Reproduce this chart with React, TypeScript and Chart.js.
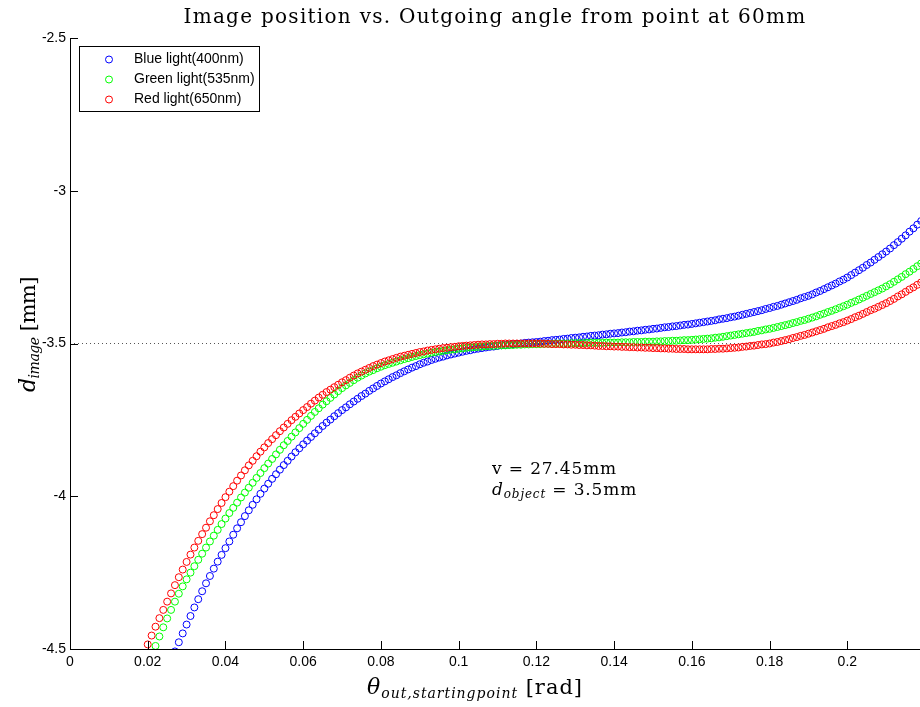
import React, { useEffect, useRef } from 'react';
import { Chart, registerables } from 'chart.js';

Chart.register(...registerables);

// outgoing angle theta [rad]
const theta = [
  0.019, 0.020, 0.021, 0.022, 0.023, 0.024, 0.025, 0.026, 0.027, 0.028,
  0.029, 0.030, 0.031, 0.032, 0.033, 0.034, 0.035, 0.036, 0.037, 0.038,
  0.039, 0.040, 0.041, 0.042, 0.043, 0.044, 0.045, 0.046, 0.047, 0.048,
  0.049, 0.050, 0.051, 0.052, 0.053, 0.054, 0.055, 0.056, 0.057, 0.058,
  0.059, 0.060, 0.061, 0.062, 0.063, 0.064, 0.065, 0.066, 0.067, 0.068,
  0.069, 0.070, 0.071, 0.072, 0.073, 0.074, 0.075, 0.076, 0.077, 0.078,
  0.079, 0.080, 0.081, 0.082, 0.083, 0.084, 0.085, 0.086, 0.087, 0.088,
  0.089, 0.090, 0.091, 0.092, 0.093, 0.094, 0.095, 0.096, 0.097, 0.098,
  0.099, 0.100, 0.101, 0.102, 0.103, 0.104, 0.105, 0.106, 0.107, 0.108,
  0.109, 0.110, 0.111, 0.112, 0.113, 0.114, 0.115, 0.116, 0.117, 0.118,
  0.119, 0.120, 0.121, 0.122, 0.123, 0.124, 0.125, 0.126, 0.127, 0.128,
  0.129, 0.130, 0.131, 0.132, 0.133, 0.134, 0.135, 0.136, 0.137, 0.138,
  0.139, 0.140, 0.141, 0.142, 0.143, 0.144, 0.145, 0.146, 0.147, 0.148,
  0.149, 0.150, 0.151, 0.152, 0.153, 0.154, 0.155, 0.156, 0.157, 0.158,
  0.159, 0.160, 0.161, 0.162, 0.163, 0.164, 0.165, 0.166, 0.167, 0.168,
  0.169, 0.170, 0.171, 0.172, 0.173, 0.174, 0.175, 0.176, 0.177, 0.178,
  0.179, 0.180, 0.181, 0.182, 0.183, 0.184, 0.185, 0.186, 0.187, 0.188,
  0.189, 0.190, 0.191, 0.192, 0.193, 0.194, 0.195, 0.196, 0.197, 0.198,
  0.199, 0.200, 0.201, 0.202, 0.203, 0.204, 0.205, 0.206, 0.207, 0.208,
  0.209, 0.210, 0.211, 0.212, 0.213, 0.214, 0.215, 0.216, 0.217, 0.218,
  0.219,
];

// d_image [mm], blue light (400nm)
const blueLight = [
  null, null, null, null, null, null, null, -4.538, -4.508, -4.478,
  -4.449, -4.420, -4.392, -4.364, -4.337, -4.311, -4.285, -4.261, -4.237, -4.214,
  -4.192, -4.170, -4.148, -4.126, -4.105, -4.085, -4.065, -4.046, -4.028, -4.010,
  -3.992, -3.975, -3.959, -3.943, -3.928, -3.913, -3.898, -3.884, -3.870, -3.856,
  -3.843, -3.830, -3.818, -3.806, -3.794, -3.782, -3.770, -3.759, -3.749, -3.738,
  -3.728, -3.718, -3.709, -3.699, -3.690, -3.681, -3.672, -3.664, -3.655, -3.647,
  -3.639, -3.631, -3.624, -3.617, -3.610, -3.604, -3.597, -3.591, -3.585, -3.579,
  -3.574, -3.568, -3.563, -3.559, -3.554, -3.550, -3.546, -3.543, -3.539, -3.536,
  -3.533, -3.530, -3.527, -3.524, -3.522, -3.519, -3.517, -3.515, -3.513, -3.511,
  -3.510, -3.508, -3.506, -3.505, -3.504, -3.502, -3.501, -3.500, -3.498, -3.497,
  -3.496, -3.495, -3.494, -3.492, -3.491, -3.489, -3.488, -3.487, -3.485, -3.484,
  -3.482, -3.481, -3.480, -3.478, -3.477, -3.475, -3.474, -3.473, -3.471, -3.470,
  -3.468, -3.467, -3.466, -3.464, -3.463, -3.461, -3.460, -3.458, -3.457, -3.455,
  -3.454, -3.452, -3.451, -3.449, -3.447, -3.446, -3.444, -3.443, -3.441, -3.439,
  -3.438, -3.436, -3.434, -3.432, -3.430, -3.428, -3.426, -3.424, -3.421, -3.419,
  -3.417, -3.414, -3.412, -3.409, -3.406, -3.403, -3.400, -3.397, -3.394, -3.391,
  -3.387, -3.384, -3.380, -3.377, -3.373, -3.369, -3.365, -3.361, -3.357, -3.352,
  -3.348, -3.344, -3.339, -3.333, -3.328, -3.322, -3.316, -3.310, -3.304, -3.297,
  -3.291, -3.284, -3.276, -3.268, -3.260, -3.252, -3.243, -3.235, -3.226, -3.217,
  -3.208, -3.199, -3.189, -3.178, -3.168, -3.157, -3.146, -3.134, -3.123, -3.111,
  -3.099,
];

// d_image [mm], green light (535nm)
const greenLight = [
  null, null, -4.520, -4.490, -4.459, -4.429, -4.400, -4.372, -4.345, -4.319,
  -4.295, -4.272, -4.250, -4.229, -4.208, -4.188, -4.168, -4.148, -4.129, -4.110,
  -4.091, -4.073, -4.055, -4.038, -4.021, -4.004, -3.988, -3.972, -3.956, -3.940,
  -3.924, -3.908, -3.893, -3.878, -3.863, -3.848, -3.833, -3.819, -3.805, -3.791,
  -3.777, -3.763, -3.750, -3.737, -3.724, -3.712, -3.700, -3.689, -3.678, -3.667,
  -3.656, -3.646, -3.637, -3.629, -3.620, -3.612, -3.605, -3.598, -3.592, -3.587,
  -3.581, -3.576, -3.571, -3.567, -3.563, -3.559, -3.555, -3.551, -3.548, -3.544,
  -3.541, -3.538, -3.535, -3.533, -3.530, -3.528, -3.526, -3.524, -3.522, -3.520,
  -3.519, -3.517, -3.516, -3.514, -3.513, -3.512, -3.511, -3.510, -3.509, -3.508,
  -3.508, -3.507, -3.506, -3.506, -3.505, -3.505, -3.504, -3.504, -3.503, -3.503,
  -3.502, -3.502, -3.502, -3.501, -3.501, -3.501, -3.500, -3.500, -3.500, -3.500,
  -3.499, -3.499, -3.499, -3.499, -3.498, -3.498, -3.498, -3.498, -3.498, -3.497,
  -3.497, -3.497, -3.497, -3.496, -3.496, -3.496, -3.495, -3.495, -3.495, -3.494,
  -3.494, -3.494, -3.493, -3.493, -3.492, -3.492, -3.491, -3.491, -3.490, -3.489,
  -3.489, -3.488, -3.487, -3.486, -3.485, -3.484, -3.483, -3.481, -3.480, -3.478,
  -3.476, -3.474, -3.472, -3.470, -3.468, -3.466, -3.464, -3.462, -3.459, -3.457,
  -3.454, -3.452, -3.449, -3.446, -3.443, -3.440, -3.437, -3.433, -3.430, -3.426,
  -3.423, -3.419, -3.415, -3.411, -3.406, -3.402, -3.397, -3.393, -3.388, -3.383,
  -3.378, -3.373, -3.367, -3.362, -3.356, -3.350, -3.344, -3.338, -3.332, -3.326,
  -3.320, -3.313, -3.306, -3.298, -3.290, -3.282, -3.273, -3.265, -3.256, -3.247,
  -3.238,
];

// d_image [mm], red light (650nm)
const redLight = [
  -4.515, -4.485, -4.456, -4.427, -4.399, -4.372, -4.345, -4.318, -4.291, -4.265,
  -4.240, -4.215, -4.191, -4.168, -4.146, -4.124, -4.103, -4.082, -4.062, -4.042,
  -4.022, -4.003, -3.985, -3.967, -3.949, -3.932, -3.915, -3.899, -3.884, -3.869,
  -3.854, -3.840, -3.826, -3.813, -3.800, -3.787, -3.775, -3.763, -3.751, -3.740,
  -3.729, -3.718, -3.708, -3.697, -3.687, -3.677, -3.668, -3.659, -3.651, -3.643,
  -3.635, -3.627, -3.620, -3.612, -3.605, -3.598, -3.592, -3.586, -3.580, -3.574,
  -3.569, -3.564, -3.559, -3.555, -3.551, -3.547, -3.543, -3.540, -3.537, -3.534,
  -3.531, -3.528, -3.526, -3.523, -3.521, -3.519, -3.517, -3.515, -3.514, -3.512,
  -3.511, -3.509, -3.508, -3.507, -3.506, -3.505, -3.504, -3.503, -3.503, -3.502,
  -3.502, -3.501, -3.501, -3.500, -3.500, -3.500, -3.500, -3.500, -3.500, -3.500,
  -3.500, -3.500, -3.500, -3.501, -3.501, -3.502, -3.502, -3.502, -3.503, -3.503,
  -3.504, -3.504, -3.505, -3.505, -3.506, -3.506, -3.507, -3.508, -3.508, -3.509,
  -3.509, -3.510, -3.510, -3.511, -3.511, -3.512, -3.512, -3.513, -3.513, -3.514,
  -3.514, -3.515, -3.515, -3.516, -3.516, -3.517, -3.517, -3.518, -3.518, -3.518,
  -3.519, -3.519, -3.519, -3.519, -3.519, -3.519, -3.518, -3.518, -3.517, -3.517,
  -3.516, -3.515, -3.514, -3.513, -3.511, -3.510, -3.508, -3.507, -3.505, -3.503,
  -3.502, -3.500, -3.497, -3.495, -3.492, -3.489, -3.486, -3.482, -3.479, -3.475,
  -3.472, -3.468, -3.464, -3.460, -3.456, -3.452, -3.447, -3.443, -3.439, -3.434,
  -3.430, -3.425, -3.420, -3.414, -3.409, -3.403, -3.397, -3.391, -3.386, -3.380,
  -3.374, -3.368, -3.361, -3.354, -3.346, -3.339, -3.331, -3.323, -3.316, -3.308,
  -3.300,
];

const seriesLabels = ['Blue light(400nm)', 'Green light(535nm)', 'Red light(650nm)'];
const seriesColors = ['#0000ff', '#00ff00', '#ff0000'];

const xTickValues = [0, 0.02, 0.04, 0.06, 0.08, 0.1, 0.12, 0.14, 0.16, 0.18, 0.2];
const xTickLabels = ['0', '0.02', '0.04', '0.06', '0.08', '0.1', '0.12', '0.14', '0.16', '0.18', '0.2'];
const yTickValues = [-4.5, -4, -3.5, -3, -2.5];
const yTickLabels = ['-4.5', '-4', '-3.5', '-3', '-2.5'];

const xMin = 0;
const xMax = 0.2187;
const yMin = -4.5;
const yMax = -2.5;
const referenceLevel = -3.5;

const titleText = 'Image position vs. Outgoing angle from point at 60mm';
const annotationLine1 = 'v = 27.45mm';
const annotationValue2 = ' = 3.5mm';
const annotationAnchorX = 0.1086;
const annotationAnchorY1 = -3.927;
const annotationAnchorY2 = -3.996;

type Part = { t: string; font: string; dy?: number };

const SERIF = '"DejaVu Serif", "Liberation Serif", serif';
const SANS = '"Liberation Sans", Arial, Helvetica, sans-serif';

function drawRich(ctx: any, parts: Part[], x: number, y: number, target: number, align: 'left' | 'center') {
  ctx.letterSpacing = '0px';
  const widths: number[] = [];
  let total = 0;
  let n = 0;
  for (const p of parts) {
    ctx.font = p.font;
    const w = ctx.measureText(p.t).width;
    widths.push(w);
    total += w;
    n += p.t.length;
  }
  const ls = target > 0 ? (target - total) / n : 0;
  const fullW = total + ls * n;
  let cx = align === 'center' ? x - fullW / 2 : x;
  ctx.textAlign = 'left';
  ctx.textBaseline = 'alphabetic';
  parts.forEach((p, i) => {
    ctx.font = p.font;
    ctx.letterSpacing = ls.toFixed(3) + 'px';
    ctx.fillText(p.t, cx, y + (p.dy || 0));
    cx += widths[i] + ls * p.t.length;
  });
  ctx.letterSpacing = '0px';
}

const decorPlugin = {
  id: 'decor',
  afterDraw(chart: any) {
    const { ctx, chartArea, scales } = chart;
    const xs = scales.x;
    const ys = scales.y;
    const { left, right, top, bottom } = chartArea;
    ctx.save();

    // axis lines
    ctx.strokeStyle = '#000';
    ctx.lineWidth = 1;
    ctx.beginPath();
    ctx.moveTo(left + 0.5, top);
    ctx.lineTo(left + 0.5, bottom + 1);
    ctx.moveTo(left, bottom + 0.5);
    ctx.lineTo(right, bottom + 0.5);
    ctx.stroke();

    // inward ticks
    const tl = 8;
    ctx.beginPath();
    xTickValues.forEach((v) => {
      const px = Math.round(xs.getPixelForValue(v)) + 0.5;
      ctx.moveTo(px, bottom);
      ctx.lineTo(px, bottom - tl);
    });
    yTickValues.forEach((v) => {
      const py = Math.round(ys.getPixelForValue(v)) + 0.5;
      ctx.moveTo(left, py);
      ctx.lineTo(left + tl, py);
    });
    ctx.stroke();

    ctx.fillStyle = '#000';

    // title
    drawRich(ctx, [{ t: titleText, font: `20px ${SERIF}` }], (left + right) / 2, 23, 623, 'center');

    // x label
    drawRich(
      ctx,
      [
        { t: 'θ', font: `italic 22px ${SERIF}` },
        { t: 'out,startingpoint', font: `italic 14px ${SERIF}`, dy: 4 },
        { t: ' [rad]', font: `21px ${SERIF}` },
      ],
      367,
      694,
      216,
      'left'
    );

    // y label (rotated)
    ctx.save();
    ctx.translate(35, 392);
    ctx.rotate(-Math.PI / 2);
    drawRich(
      ctx,
      [
        { t: 'd', font: `italic 22px ${SERIF}` },
        { t: 'image', font: `italic 14px ${SERIF}`, dy: 4 },
        { t: ' [mm]', font: `21px ${SERIF}` },
      ],
      0,
      0,
      115,
      'left'
    );
    ctx.restore();

    // annotation
    const ax = xs.getPixelForValue(annotationAnchorX);
    drawRich(ctx, [{ t: annotationLine1, font: `17px ${SERIF}` }], ax, ys.getPixelForValue(annotationAnchorY1), 125, 'left');
    drawRich(
      ctx,
      [
        { t: 'd', font: `italic 17px ${SERIF}` },
        { t: 'object', font: `italic 12px ${SERIF}`, dy: 3 },
        { t: annotationValue2, font: `17px ${SERIF}` },
      ],
      ax,
      ys.getPixelForValue(annotationAnchorY2),
      145,
      'left'
    );

    // legend
    const bx = left + 9;
    const by = top + 8;
    const bw = 180;
    const bh = 65;
    ctx.fillStyle = '#fff';
    ctx.fillRect(bx, by, bw, bh);
    ctx.strokeStyle = '#000';
    ctx.lineWidth = 1;
    ctx.strokeRect(bx + 0.5, by + 0.5, bw, bh);
    ctx.font = `14px ${SANS}`;
    ctx.textBaseline = 'middle';
    ctx.textAlign = 'left';
    seriesLabels.forEach((lab, i) => {
      const cy = by + 13.5 + i * 20;
      ctx.strokeStyle = seriesColors[i];
      ctx.beginPath();
      ctx.arc(bx + 30, cy, 3.5, 0, Math.PI * 2);
      ctx.stroke();
      ctx.fillStyle = '#000';
      ctx.fillText(lab, bx + 55, cy);
    });

    ctx.restore();
  },
};

function makePoints(ys: (number | null)[]) {
  const out: { x: number; y: number }[] = [];
  theta.forEach((x, i) => {
    const y = ys[i];
    if (y !== null && y !== undefined) out.push({ x, y });
  });
  return out;
}

export default function App() {
  const ref = useRef<HTMLCanvasElement | null>(null);

  useEffect(() => {
    if (!ref.current) return;
    const seriesData = [blueLight, greenLight, redLight];
    const datasets: any[] = seriesData.map((arr, i) => ({
      label: seriesLabels[i],
      data: makePoints(arr),
      showLine: false,
      pointStyle: 'circle',
      pointRadius: 3.5,
      pointBorderWidth: 1,
      pointBorderColor: seriesColors[i],
      pointBackgroundColor: 'rgba(0,0,0,0)',
      borderColor: seriesColors[i],
      backgroundColor: 'rgba(0,0,0,0)',
      order: 3 - i,
      clip: 0,
    }));
    datasets.push({
      label: 'reference',
      data: [
        { x: xMin, y: referenceLevel },
        { x: xMax, y: referenceLevel },
      ],
      showLine: true,
      pointRadius: 0,
      borderColor: '#555',
      borderWidth: 1,
      borderDash: [1, 3],
      order: 10,
      clip: 0,
    });

    const chart = new Chart(ref.current, {
      type: 'scatter',
      data: { datasets },
      options: {
        animation: false,
        responsive: false,
        events: [],
        layout: { autoPadding: false, padding: { top: 38, right: 0, left: 0, bottom: 0 } },
        plugins: {
          legend: { display: false },
          tooltip: { enabled: false },
          title: { display: false },
        },
        scales: {
          x: {
            type: 'linear',
            min: xMin,
            max: xMax,
            grid: { display: false, drawTicks: false, tickLength: 0 },
            border: { display: false },
            afterBuildTicks: (scale: any) => {
              scale.ticks = xTickValues.map((v) => ({ value: v }));
            },
            afterFit: (scale: any) => {
              scale.height = 58;
              scale.paddingLeft = 0;
              scale.paddingRight = 0;
            },
            ticks: {
              autoSkip: false,
              maxRotation: 0,
              padding: 5,
              color: '#000',
              font: { family: SANS, size: 14 },
              callback: (_v: any, i: number) => xTickLabels[i],
            },
          },
          y: {
            type: 'linear',
            min: yMin,
            max: yMax,
            grid: { display: false, drawTicks: false, tickLength: 0 },
            border: { display: false },
            afterBuildTicks: (scale: any) => {
              scale.ticks = yTickValues.map((v) => ({ value: v }));
            },
            afterFit: (scale: any) => {
              scale.width = 70;
              scale.paddingTop = 0;
              scale.paddingBottom = 0;
            },
            ticks: {
              autoSkip: false,
              padding: 4,
              color: '#000',
              font: { family: SANS, size: 14 },
              callback: (_v: any, i: number) => yTickLabels[i],
            },
          },
        },
      },
      plugins: [decorPlugin],
    } as any);

    return () => chart.destroy();
  }, []);

  return (
    <div style={{ position: 'fixed', left: 0, top: 0, width: 920, height: 707, background: '#fff' }}>
      <canvas ref={ref} width={920} height={707} style={{ width: 920, height: 707, display: 'block' }} />
    </div>
  );
}
